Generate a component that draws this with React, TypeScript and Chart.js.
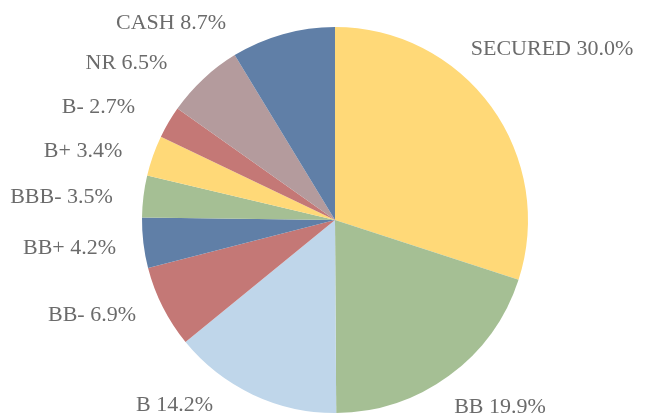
import React, { useEffect, useRef } from "react";
import { Chart, registerables } from "chart.js";

Chart.register(...registerables);

const categories = ["SECURED", "BB", "B", "BB-", "BB+", "BBB-", "B+", "B-", "NR", "CASH"];
const shares = [30.0, 19.9, 14.2, 6.9, 4.2, 3.5, 3.4, 2.7, 6.5, 8.7];
const colors = ["#FFD978", "#A5BF94", "#BFD6EA", "#C47876", "#607FA7", "#A5BF94", "#FFD978", "#C47876", "#B49B9D", "#607FA7"];
// label anchor offsets relative to pie centre (layout, in px; x = text centre, y = cap middle)
const labelOffsets: [number, number][] = [
  [217, -172], [165, 186], [-160.5, 184], [-243, 94], [-265.5, 27],
  [-273.5, -24.5], [-252, -70], [-236.5, -114], [-208.5, -158], [-164, -198],
];

const labelPlugin = {
  id: "outerLabels",
  afterDatasetsDraw(chart: any) {
    const ctx = chart.ctx;
    const meta = chart.getDatasetMeta(0);
    ctx.save();
    ctx.font = '22px "Liberation Serif", serif';
    ctx.fillStyle = "#6B6B6B";
    ctx.textAlign = "center";
    ctx.textBaseline = "alphabetic";
    meta.data.forEach((arc: any, i: number) => {
      const [dx, dy] = labelOffsets[i];
      const text = `${categories[i]} ${shares[i].toFixed(1)}%`;
      ctx.fillText(text, arc.x + dx, arc.y + dy + 7.3);
    });
    ctx.restore();
  },
};

export default function App() {
  const ref = useRef<HTMLCanvasElement>(null);
  useEffect(() => {
    document.body.style.margin = "0";
    const chart = new Chart(ref.current!, {
      type: "pie",
      data: {
        labels: categories,
        datasets: [{ data: shares, backgroundColor: colors, borderWidth: 0 }],
      },
      options: {
        responsive: false,
        animation: false,
        layout: { padding: { left: 142, right: 120, top: 27, bottom: 4 } },
        plugins: { legend: { display: false }, tooltip: { enabled: false } },
      },
      plugins: [labelPlugin],
    });
    return () => chart.destroy();
  }, []);
  return (
    <div style={{ width: 648, height: 417, background: "#fff" }}>
      <canvas ref={ref} width={648} height={417} />
    </div>
  );
}
